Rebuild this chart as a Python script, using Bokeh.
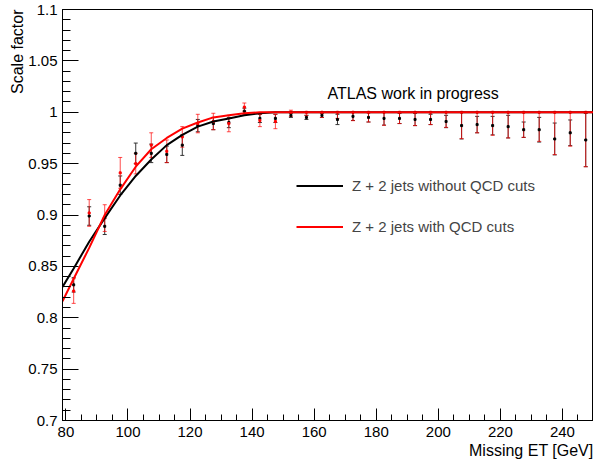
import numpy as np
from bokeh.plotting import figure
from bokeh.models import (ColumnDataSource, Whisker, TeeHead, FixedTicker,
                          CustomJSTickFormatter, Label, Legend, LegendItem, Range1d, Title)
from bokeh.embed import file_html
from bokeh.resources import INLINE

# ---------------- data ----------------
met_bins = [82.5, 87.5, 92.5, 97.5, 102.5, 107.5, 112.5, 117.5, 122.5, 127.5,
            132.5, 137.5, 142.5, 147.5, 152.5, 157.5, 162.5, 167.5, 172.5, 177.5,
            182.5, 187.5, 192.5, 197.5, 202.5, 207.5, 212.5, 217.5, 222.5, 227.5,
            232.5, 237.5, 242.5, 247.5]

# Z + 2 jets without QCD cuts (black)
black_sf = [0.832, 0.899, 0.889, 0.929, 0.960, 0.960, 0.959, 0.968, 0.987, 0.989,
            0.990, 1.001, 0.994, 0.994, 0.997, 0.995, 0.997, 0.993, 0.996, 0.995,
            0.994, 0.994, 0.993, 0.993, 0.991, 0.987, 0.988, 0.987, 0.986, 0.983,
            0.983, 0.974, 0.980, 0.973]
black_err = [0.007, 0.009, 0.008, 0.009, 0.010, 0.009, 0.008, 0.010, 0.006, 0.006,
             0.005, 0.003, 0.004, 0.004, 0.002, 0.002, 0.002, 0.005, 0.004, 0.0045,
             0.0065, 0.005, 0.006, 0.005, 0.006, 0.013, 0.008, 0.009, 0.011, 0.0075,
             0.012, 0.0155, 0.0125, 0.026]

# Z + 2 jets with QCD cuts (red)
red_sf = [0.826, 0.902, 0.897, 0.941, 0.950, 0.968, 0.962, 0.976, 0.989, 0.991,
          0.989, 1.005, 0.992, 0.991, 1.000, 1.000, 1.000, 1.000, 1.000, 1.000,
          1.000, 1.000, 1.000, 1.000, 1.000, 1.000, 1.000, 1.000, 1.000, 1.000,
          1.000, 1.000, 1.000, 1.000]
red_err_lo = [0.012, 0.013, 0.013, 0.015, 0.010, 0.012, 0.011, 0.010, 0.009, 0.008,
              0.008, 0.004, 0.006, 0.007, 0.004, 0.003, 0.005, 0.006, 0.0082, 0.0095,
              0.0127, 0.011, 0.013, 0.012, 0.0147, 0.0257, 0.020, 0.0224, 0.025, 0.0244,
              0.0283, 0.0412, 0.033, 0.053]
red_err_hi = [0.012, 0.013, 0.013, 0.015, 0.010, 0.012, 0.011, 0.010, 0.009, 0.008,
              0.008, 0.004, 0.006, 0.007, 0.002, 0.0, 0.0, 0.0, 0.0, 0.0,
              0.0, 0.0, 0.0, 0.0, 0.0, 0.0, 0.0, 0.0, 0.0, 0.0,
              0.0, 0.0, 0.0, 0.0]

# fitted turn-on curves
curve_x = [78.9, 82.5, 87.5, 92.5, 97.5, 102.5, 107.5, 112.5, 117.5, 122.5,
           127.5, 132.5, 137.5, 142.5, 147.5, 250.0]
black_fit = [0.830, 0.848, 0.874, 0.897, 0.919, 0.938, 0.954, 0.968, 0.978, 0.986,
             0.991, 0.994, 0.997, 0.999, 1.000, 1.000]
red_fit = [0.816, 0.838, 0.868, 0.900, 0.925, 0.947, 0.964, 0.975, 0.984, 0.990,
           0.995, 0.997, 0.999, 1.000, 1.000, 1.000]

x_tick_values = [80, 100, 120, 140, 160, 180, 200, 220, 240]
y_tick_values = [0.7, 0.75, 0.8, 0.85, 0.9, 0.95, 1.0, 1.05, 1.1]

legend_labels = ["Z + 2 jets without QCD cuts", "Z + 2 jets with QCD cuts"]
x_title = "Missing ET [GeV]"
y_title = "Scale factor"
watermark = "ATLAS work in progress"

FONT = "Liberation Sans"

# ---------------- figure ----------------
p = figure(width=593, height=461, x_range=Range1d(78.9, 250.0), y_range=Range1d(0.7, 1.1),
           output_backend="svg", toolbar_location=None,
           min_border_left=62, min_border_right=0, min_border_top=9, min_border_bottom=41)
p.background_fill_color = "white"
p.border_fill_color = "white"
p.grid.visible = False
p.outline_line_color = "black"
p.outline_line_width = 1

for ax in (p.xaxis, p.yaxis):
    ax.axis_line_color = "black"
    ax.major_tick_line_color = "black"
    ax.minor_tick_line_color = "black"
    ax.major_tick_out = 0
    ax.minor_tick_out = 0
    ax.major_label_text_font = FONT
    ax.major_label_text_font_size = "15px"
    ax.major_label_text_color = "black"

p.xaxis.ticker = FixedTicker(ticks=x_tick_values, minor_ticks=list(np.arange(80, 251, 5)))
p.xaxis.major_tick_in = 12
p.xaxis.minor_tick_in = 6
p.xaxis.major_label_standoff = 6

p.yaxis.ticker = FixedTicker(ticks=y_tick_values, minor_ticks=list(np.round(np.arange(0.70, 1.1001, 0.01), 2)))
p.yaxis.major_tick_in = 16
p.yaxis.minor_tick_in = 8
p.yaxis.major_label_standoff = 5
p.yaxis.formatter = CustomJSTickFormatter(code="return Number(tick.toFixed(2)).toString();")

# axis titles, right-aligned at the axis ends (ROOT style)
p.add_layout(Title(text=x_title, align="right", text_font=FONT, text_font_size="16px",
                   text_font_style="normal", text_color="black", standoff=0, offset=0), "below")
p.add_layout(Title(text=y_title, align="right", text_font=FONT, text_font_size="16px",
                   text_font_style="normal", text_color="black", standoff=0, offset=0), "left")

# ---------------- data marks ----------------
bsrc = ColumnDataSource(dict(x=met_bins, y=black_sf,
                             lo=[v - e for v, e in zip(black_sf, black_err)],
                             hi=[v + e for v, e in zip(black_sf, black_err)]))
rsrc = ColumnDataSource(dict(x=met_bins, y=red_sf,
                             lo=[v - e for v, e in zip(red_sf, red_err_lo)],
                             hi=[v + e for v, e in zip(red_sf, red_err_hi)]))

bw = Whisker(source=bsrc, base="x", lower="lo", upper="hi", dimension="height",
             line_color="#333333", line_width=1,
             lower_head=TeeHead(size=4, line_color="#333333", line_width=1),
             upper_head=TeeHead(size=4, line_color="#333333", line_width=1))
p.add_layout(bw)
p.scatter("x", "y", source=bsrc, marker="square", size=2, color="black")

rw = Whisker(source=rsrc, base="x", lower="lo", upper="hi", dimension="height",
             line_color="red", line_alpha=0.7, line_width=1,
             lower_head=TeeHead(size=4, line_color="red", line_alpha=0.7, line_width=1),
             upper_head=TeeHead(size=4, line_color="red", line_alpha=0.7, line_width=1))
p.add_layout(rw)
p.scatter("x", "y", source=rsrc, marker="square", size=2, color="red")

bl = p.line(curve_x, black_fit, line_color="black", line_width=2)
rl = p.line(curve_x, red_fit, line_color="red", line_width=2)

# ---------------- legend ----------------
legend = Legend(items=[LegendItem(label=legend_labels[0], renderers=[bl]),
                       LegendItem(label=legend_labels[1], renderers=[rl])],
                location=(234, 179), glyph_width=47, glyph_height=29, spacing=12,
                padding=0, margin=0, label_standoff=9,
                label_text_font=FONT, label_text_font_size="15px",
                border_line_alpha=0, background_fill_alpha=0)
p.add_layout(legend)

# ---------------- texts ----------------
p.add_layout(Label(x=265, y=327, x_units="screen", y_units="screen", text=watermark,
                   text_font=FONT, text_font_size="16px", text_color="black",
                   text_baseline="alphabetic", text_align="left"))

open("out.html", "w").write(file_html(p, INLINE))
